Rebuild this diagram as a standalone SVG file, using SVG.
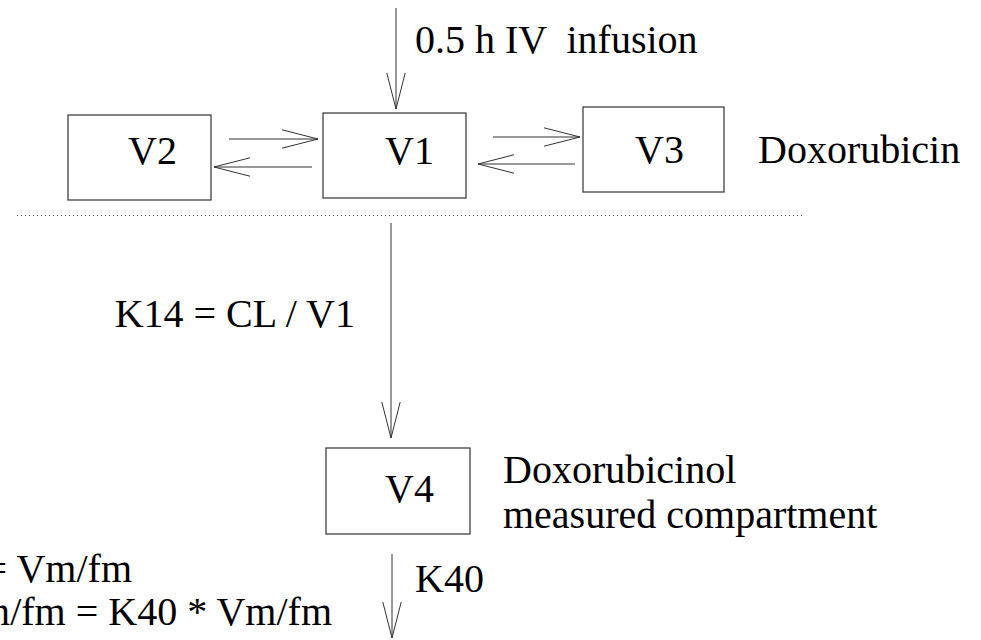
<svg xmlns="http://www.w3.org/2000/svg" width="981" height="640" viewBox="0 0 981 640">
<defs>
<style>
.box{fill:#fff;stroke:#333;stroke-width:1.2}
.t{font-size:40px;fill:#000;white-space:pre}
.ln{stroke:#333;stroke-width:1;fill:none;marker-end:url(#ah)}
</style>
<marker id="ah" markerUnits="userSpaceOnUse" viewBox="0 0 37 20" markerWidth="37" markerHeight="20" refX="36" refY="10" orient="auto">
<path d="M0,0.8 L36,10 L0,19.2" fill="none" stroke="#333" stroke-width="1"/>
</marker>
</defs>
<rect width="981" height="640" fill="#fff"/>
<g id="connectors">
<line class="ln" x1="396" y1="8" x2="396" y2="109"/>
<line class="ln" x1="229" y1="139" x2="318" y2="139"/>
<line class="ln" x1="312" y1="167" x2="214" y2="167"/>
<line class="ln" x1="493" y1="137" x2="580" y2="137"/>
<line class="ln" x1="575" y1="164" x2="478" y2="164"/>
<line class="ln" x1="391" y1="223" x2="391" y2="438"/>
<line class="ln" x1="392" y1="554" x2="392" y2="638"/>
</g>
<line id="divider" x1="17" y1="215.5" x2="802" y2="215.5" stroke="#555" stroke-width="1" stroke-dasharray="1,3"/>
<g font-family="Liberation Serif, Tinos, DejaVu Serif, serif">
<g id="V2"><rect class="box" x="68" y="115" width="143" height="85"/><text class="t" x="128" y="164">V2</text></g>
<g id="V1"><rect class="box" x="323" y="113" width="143" height="85"/><text class="t" x="385" y="164">V1</text></g>
<g id="V3"><rect class="box" x="583" y="107" width="141" height="85"/><text class="t" x="635" y="163">V3</text></g>
<g id="V4"><rect class="box" x="326" y="448" width="144" height="86"/><text class="t" x="385" y="502">V4</text></g>
<g id="labels">
<text class="t" x="415" y="53">0.5 h IV  infusion</text>
<text class="t" x="758" y="163">Doxorubicin</text>
<text class="t" x="355" y="327" text-anchor="end">K14 = CL / V1</text>
<text class="t" x="503" y="483">Doxorubicinol</text>
<text class="t" x="503" y="528">measured compartment</text>
<text class="t" x="415" y="592">K40</text>
<text class="t" x="132" y="582" text-anchor="end">= Vm/fm</text>
<text class="t" x="332" y="625" text-anchor="end">m/fm = K40 * Vm/fm</text>
</g>
</g>
</svg>
